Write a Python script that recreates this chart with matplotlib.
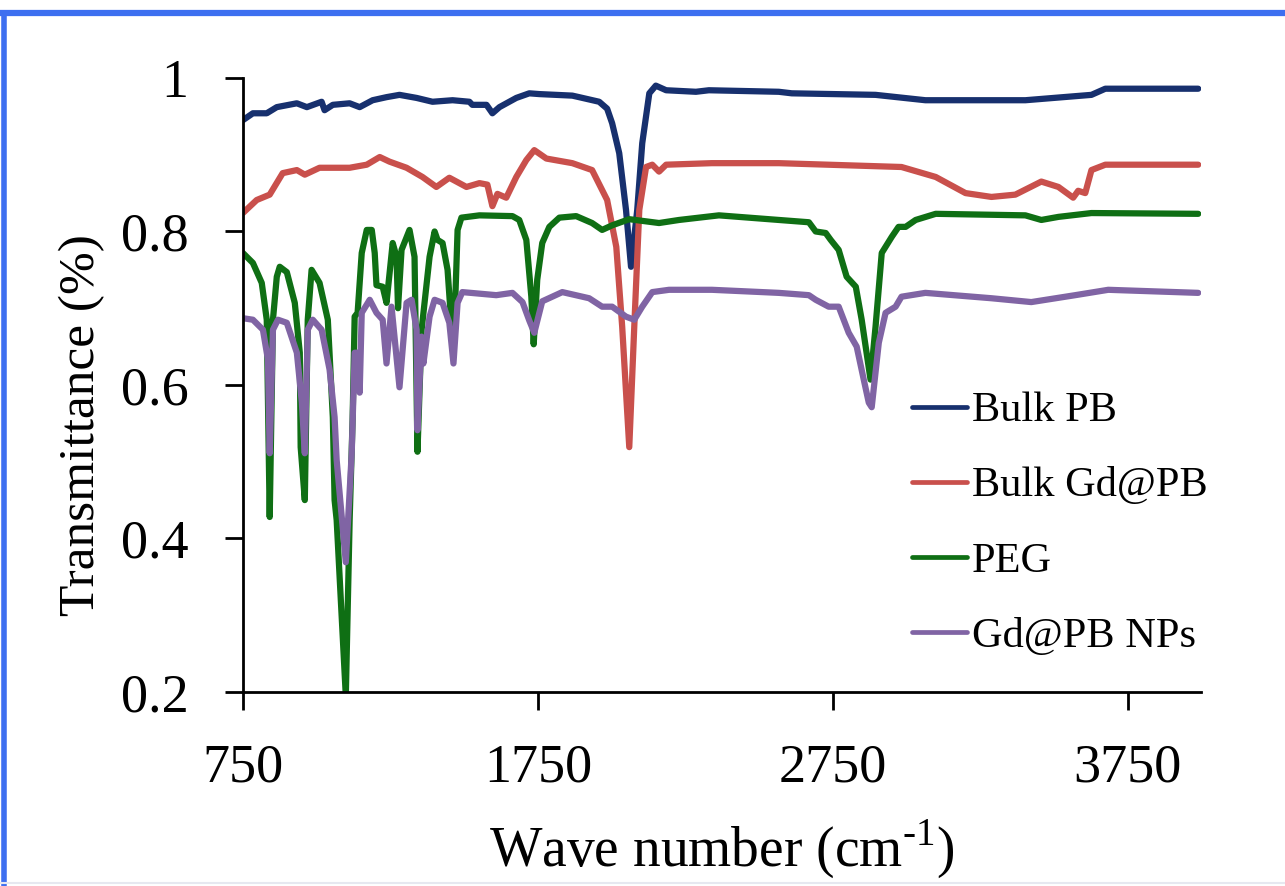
import matplotlib
matplotlib.use("Agg")
import matplotlib.pyplot as plt
from matplotlib.lines import Line2D

# ---------------- data ----------------
pb_wn = [750, 784, 831, 865, 933, 967, 1017, 1027, 1055, 1112, 1146, 1190, 1237, 1281,
         1339, 1393, 1461, 1518, 1528, 1576, 1596, 1620, 1677, 1721, 1755, 1867, 1890,
         1958, 1985, 2002, 2026, 2049, 2066, 2087, 2104, 2128, 2150, 2185, 2286, 2330,
         2567, 2611, 2895, 3064, 3288, 3403, 3627, 3674, 3989]
pb_t = [0.945, 0.954, 0.954, 0.962, 0.967, 0.962, 0.969, 0.958, 0.965, 0.967, 0.962,
        0.971, 0.975, 0.978, 0.974, 0.969, 0.971, 0.969, 0.965, 0.965, 0.954, 0.962,
        0.974, 0.980, 0.979, 0.977, 0.975, 0.969, 0.960, 0.941, 0.902, 0.828, 0.754,
        0.828, 0.915, 0.980, 0.990, 0.984, 0.982, 0.984, 0.982, 0.980, 0.978, 0.971,
        0.971, 0.971, 0.978, 0.986, 0.986]

gdpb_wn = [750, 797, 841, 885, 933, 960, 1010, 1112, 1170, 1214, 1247, 1305, 1359, 1406,
           1450, 1508, 1552, 1579, 1596, 1613, 1643, 1677, 1711, 1738, 1779, 1867, 1934,
           1985, 2016, 2036, 2060, 2077, 2094, 2117, 2138, 2161, 2185, 2340, 2567, 2983,
           3099, 3200, 3288, 3369, 3457, 3515, 3565, 3582, 3606, 3627, 3674, 3989]
gdpb_t = [0.824, 0.841, 0.848, 0.876, 0.880, 0.874, 0.883, 0.883, 0.887, 0.897, 0.891,
          0.883, 0.871, 0.858, 0.870, 0.858, 0.863, 0.861, 0.833, 0.849, 0.844, 0.871,
          0.893, 0.906, 0.895, 0.889, 0.880, 0.841, 0.780, 0.676, 0.519, 0.676, 0.828,
          0.884, 0.887, 0.878, 0.887, 0.889, 0.889, 0.884, 0.871, 0.850, 0.845, 0.848,
          0.865, 0.858, 0.844, 0.853, 0.850, 0.880, 0.887, 0.887]

peg_wn = [750, 784, 814, 831, 841, 852, 865, 875, 899, 926, 943, 946, 960, 970, 983,
          1010, 1038, 1055, 1061, 1068, 1099, 1112, 1122, 1129, 1139, 1153, 1170, 1187,
          1197, 1203, 1224, 1237, 1258, 1271, 1276, 1288, 1315, 1332, 1342, 1356, 1383,
          1400, 1410, 1427, 1444, 1464, 1478, 1491, 1552, 1664, 1687, 1711, 1728, 1736,
          1748, 1765, 1789, 1823, 1880, 1934, 1968, 2002, 2060, 2161, 2229, 2364, 2567,
          2669, 2692, 2726, 2743, 2770, 2797, 2828, 2848, 2878, 2895, 2916, 2950, 2973,
          2997, 3031, 3099, 3403, 3457, 3515, 3627, 3989]
peg_t = [0.772, 0.759, 0.733, 0.685, 0.428, 0.685, 0.741, 0.754, 0.747, 0.707, 0.642,
         0.519, 0.450, 0.685, 0.750, 0.733, 0.685, 0.558, 0.450, 0.424, 0.195, 0.424,
         0.554, 0.689, 0.694, 0.772, 0.802, 0.802, 0.772, 0.730, 0.728, 0.707, 0.785,
         0.767, 0.700, 0.776, 0.802, 0.767, 0.513, 0.672, 0.767, 0.800, 0.789, 0.785,
         0.750, 0.640, 0.802, 0.818, 0.821, 0.820, 0.815, 0.789, 0.715, 0.653, 0.737,
         0.785, 0.806, 0.818, 0.820, 0.811, 0.802, 0.808, 0.816, 0.811, 0.815, 0.821,
         0.815, 0.812, 0.800, 0.798, 0.789, 0.776, 0.741, 0.728, 0.685, 0.607, 0.676,
         0.772, 0.793, 0.806, 0.806, 0.815, 0.823, 0.821, 0.815, 0.819, 0.824, 0.823]

np_wn = [750, 784, 818, 835, 841, 852, 869, 899, 933, 950, 960, 970, 987, 1017, 1044,
         1061, 1068, 1099, 1119, 1129, 1139, 1146, 1153, 1180, 1203, 1224, 1237, 1254,
         1281, 1305, 1322, 1339, 1342, 1356, 1362, 1383, 1400, 1427, 1450, 1464, 1478,
         1494, 1609, 1664, 1698, 1721, 1738, 1765, 1833, 1924, 1968, 2002, 2049, 2077,
         2104, 2138, 2195, 2340, 2567, 2669, 2692, 2736, 2770, 2804, 2831, 2855, 2872,
         2882, 2906, 2929, 2963, 2983, 3064, 3288, 3423, 3572, 3684, 3989]
np_t = [0.687, 0.685, 0.672, 0.633, 0.511, 0.672, 0.685, 0.681, 0.642, 0.577, 0.511,
        0.672, 0.685, 0.672, 0.620, 0.558, 0.502, 0.369, 0.511, 0.642, 0.642, 0.590,
        0.694, 0.711, 0.694, 0.685, 0.628, 0.702, 0.597, 0.707, 0.711, 0.672, 0.541,
        0.663, 0.628, 0.689, 0.711, 0.707, 0.681, 0.628, 0.707, 0.721, 0.717, 0.720,
        0.708, 0.684, 0.668, 0.709, 0.721, 0.713, 0.702, 0.702, 0.689, 0.685, 0.702,
        0.721, 0.724, 0.724, 0.720, 0.717, 0.711, 0.702, 0.702, 0.668, 0.650, 0.607,
        0.577, 0.571, 0.655, 0.694, 0.702, 0.715, 0.720, 0.713, 0.708, 0.717, 0.724,
        0.720]

labels = ["Bulk PB", "Bulk Gd@PB", "PEG", "Gd@PB NPs"]
colors = ["#17306e", "#c9504c", "#0f6f14", "#8064a4"]
xticks = [750, 1750, 2750, 3750]
yticks = [0.2, 0.4, 0.6, 0.8, 1.0]
yticklabels = ["0.2", "0.4", "0.6", "0.8", "1"]

# ---------------- figure ----------------
plt.rcParams["font.family"] = ["Liberation Serif", "DejaVu Serif"]
plt.rcParams["mathtext.fontset"] = "custom"
plt.rcParams["mathtext.rm"] = "Liberation Serif"

fig = plt.figure(figsize=(12.85, 8.86), dpi=100)
ax = fig.add_axes([0.189, 0.219, 0.746, 0.693])

series = [(pb_wn, pb_t), (gdpb_wn, gdpb_t), (peg_wn, peg_t), (np_wn, np_t)]
for (x, y), lab, c in zip(series, labels, colors):
    ax.plot(x, y, color=c, lw=4.5, label=lab, solid_joinstyle="round",
            solid_capstyle="round")

ax.set_xlim(750, 4000)
ax.set_ylim(0.2, 1.0)
ax.set_xticks(xticks)
ax.set_xticklabels([str(v) for v in xticks])
ax.set_yticks(yticks)
ax.set_yticklabels(yticklabels)
for s in ["top", "right"]:
    ax.spines[s].set_visible(False)
for s in ["left", "bottom"]:
    ax.spines[s].set_linewidth(2.0)
ax.tick_params(axis="x", direction="out", length=13, width=2.0, pad=24, labelsize=39)
ax.tick_params(axis="y", direction="out", length=13, width=2.0, pad=26, labelsize=39)

ax.set_xlabel(r"Wave number (cm$^{\text{-1}}$)", fontsize=40)
ax.xaxis.set_label_coords(0.4995, -0.257)
ax.xaxis.label.set_va("center")
ax.set_ylabel("Transmittance (%)", fontsize=37)
ax.yaxis.set_label_coords(-0.168, 0.435)
ax.yaxis.label.set_va("center")

leg = ax.legend(loc="upper left", bbox_to_anchor=(0.6976, 0.489), frameon=False,
                fontsize=30.5, handlelength=1.3, handletextpad=0.12, labelspacing=0.86,
                borderaxespad=0, borderpad=0)
for h in leg.get_lines():
    h.set_linewidth(3.4)

# blue frame of the original figure
fig.add_artist(Line2D([0.003, 0.003], [0.0, 0.985], transform=fig.transFigure,
                      color="#3d6ff0", lw=4))
fig.add_artist(Line2D([0.0, 1.0], [0.985, 0.985], transform=fig.transFigure,
                      color="#3d6ff0", lw=4.5))
fig.add_artist(Line2D([0.0, 1.0], [0.003, 0.003], transform=fig.transFigure,
                      color="#e6e8f0", lw=1.5))

fig.savefig("out.png", dpi=100, facecolor="white")
